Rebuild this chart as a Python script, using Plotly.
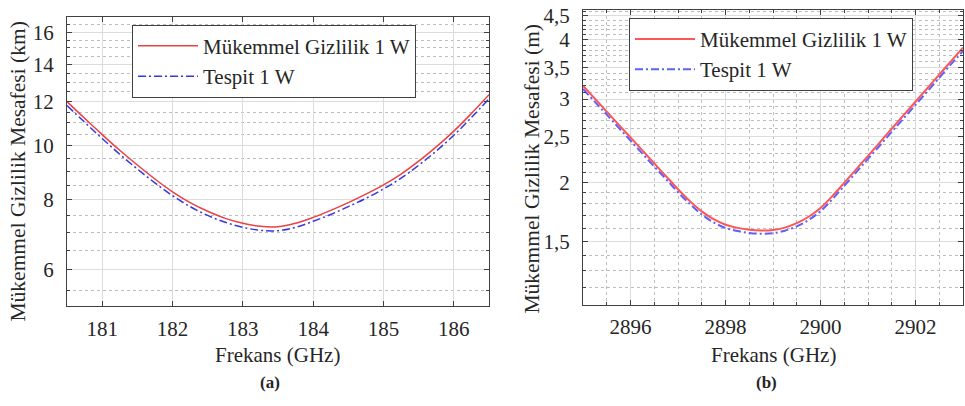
import plotly.graph_objects as go
import math

# ---------------- data ----------------
freq_a = [180.50, 180.75, 181.00, 181.25, 181.50, 181.75, 182.00, 182.25, 182.50,
          182.75, 183.00, 183.25, 183.50, 183.75, 184.00, 184.25, 184.50, 184.75,
          185.00, 185.25, 185.50, 185.75, 186.00, 186.25, 186.50]
stealth_a = [12.01, 11.21, 10.48, 9.82, 9.24, 8.72, 8.27, 7.91, 7.63,
             7.41, 7.26, 7.17, 7.16, 7.26, 7.44, 7.66, 7.91, 8.19,
             8.51, 8.90, 9.39, 9.96, 10.63, 11.44, 12.36]
detect_a = [11.82, 11.03, 10.31, 9.66, 9.09, 8.58, 8.14, 7.78, 7.50,
            7.29, 7.14, 7.05, 7.04, 7.14, 7.32, 7.53, 7.78, 8.05,
            8.37, 8.75, 9.23, 9.79, 10.45, 11.25, 12.15]

freq_b = [2895.00, 2895.25, 2895.50, 2895.75, 2896.00, 2896.25, 2896.50, 2896.75,
          2897.00, 2897.25, 2897.50, 2897.75, 2898.00, 2898.25, 2898.50, 2898.75,
          2899.00, 2899.25, 2899.50, 2899.75, 2900.00, 2900.25, 2900.50, 2900.75,
          2901.00, 2901.25, 2901.50, 2901.75, 2902.00, 2902.25, 2902.50, 2902.75,
          2903.00]
stealth_b = [3.20, 3.006, 2.822, 2.649, 2.488, 2.337, 2.193, 2.059,
             1.934, 1.825, 1.736, 1.671, 1.627, 1.602, 1.587, 1.581,
             1.585, 1.604, 1.639, 1.691, 1.765, 1.870, 1.995, 2.131,
             2.275, 2.430, 2.597, 2.773, 2.961, 3.162, 3.379, 3.609,
             3.855]
detect_b = [3.15, 2.96, 2.78, 2.61, 2.45, 2.30, 2.16, 2.03,
            1.905, 1.80, 1.71, 1.645, 1.602, 1.578, 1.563, 1.557,
            1.561, 1.58, 1.614, 1.665, 1.738, 1.842, 1.965, 2.099,
            2.241, 2.393, 2.558, 2.731, 2.916, 3.114, 3.328, 3.555,
            3.79]

name_stealth = "Mükemmel Gizlilik 1 W"
name_detect = "Tespit 1 W"

xticks_a = [181, 182, 183, 184, 185, 186]
yticks_a = [6, 8, 10, 12, 14, 16]
yminor_a = [5.5, 6.5, 7, 7.5, 8.5, 9, 9.5, 10.5, 11, 11.5, 12.5, 13, 13.5,
            14.5, 15, 15.5, 16.5]

xticks_b = [2896, 2898, 2900, 2902]
xminor_b = [2895.5, 2896.5, 2897, 2897.5, 2898.5, 2899, 2899.5, 2900.5, 2901,
            2901.5, 2902.5]
yticks_b = [1.5, 2, 2.5, 3, 3.5, 4, 4.5]
yticktext_b = ["1,5", "2", "2,5", "3", "3,5", "4", "4,5"]
yminor_b = [1.2, 1.3, 1.4, 1.6, 1.7, 1.8, 1.9, 2.1, 2.2, 2.3, 2.4, 2.6, 2.7,
            2.8, 2.9, 3.1, 3.2, 3.3, 3.4, 3.6, 3.7, 3.8, 3.9, 4.1, 4.2, 4.3,
            4.4, 4.6]

# ---------------- style ----------------
W, H = 965, 406
FONT = "'Times New Roman', 'Liberation Serif', Times, 'DejaVu Serif', serif"
TXT = "#262626"
RED_A, BLUE_A = "rgb(235,65,65)", "rgb(55,55,225)"
RED_B, BLUE_B = "rgb(255,85,85)", "rgb(95,95,255)"
GRID = "#dcdcdc"
MINOR = "#bdbdbd"
FS = 21


def px_x(px):
    return px / W


def px_y(py):
    return 1 - py / H


fig = go.Figure()

fig.add_trace(go.Scatter(x=freq_a, y=stealth_a, name=name_stealth, mode="lines",
                         line=dict(color=RED_A, width=1.5, shape="spline"),
                         xaxis="x", yaxis="y", legend="legend"))
fig.add_trace(go.Scatter(x=freq_a, y=detect_a, name=name_detect, mode="lines",
                         line=dict(color=BLUE_A, width=1.5, dash="8px,3px,2px,3px", shape="spline"),
                         xaxis="x", yaxis="y", legend="legend"))
fig.add_trace(go.Scatter(x=freq_b, y=stealth_b, name=name_stealth, mode="lines",
                         line=dict(color=RED_B, width=2, shape="spline"),
                         xaxis="x2", yaxis="y2", legend="legend2"))
fig.add_trace(go.Scatter(x=freq_b, y=detect_b, name=name_detect, mode="lines",
                         line=dict(color=BLUE_B, width=2, dash="8px,3px,2px,3px", shape="spline"),
                         xaxis="x2", yaxis="y2", legend="legend2"))

axis_common = dict(
    showline=True, linecolor="#404040", linewidth=1, mirror="allticks",
    ticks="inside", ticklen=5, tickcolor="#404040",
    showgrid=True, gridcolor=GRID, gridwidth=1,
    zeroline=False, ticklabeloverflow="allow",
    tickfont=dict(family=FONT, size=FS, color=TXT),
)

legend_common = dict(xanchor="left", yanchor="top", bgcolor="white",
                     bordercolor="#404040", borderwidth=1, itemwidth=60,
                     font=dict(family=FONT, size=FS, color=TXT), tracegroupgap=0)

fig.update_layout(
    width=W, height=H,
    margin=dict(l=0, r=0, t=0, b=0),
    paper_bgcolor="white", plot_bgcolor="white",
    font=dict(family=FONT, size=FS, color=TXT),
    xaxis=dict(axis_common, domain=[px_x(67), px_x(489)], range=[180.5, 186.5],
               tickmode="array", tickvals=xticks_a, anchor="y", ticklabelstandoff=3),
    yaxis=dict(axis_common, domain=[px_y(305), px_y(11)], type="log",
               range=[math.log10(5.145), math.log10(17.06)],
               tickmode="array", tickvals=yticks_a, anchor="x", ticklabelstandoff=8,
               minor=dict(tickmode="array", tickvals=yminor_a, ticks="inside", ticklen=3,
                          tickcolor="#404040", showgrid=True, gridcolor=MINOR, griddash="dot")),
    xaxis2=dict(axis_common, domain=[px_x(583), px_x(963)], range=[2895, 2903],
                tickmode="array", tickvals=xticks_b, anchor="y2", ticklabelstandoff=3,
                minor=dict(tickmode="array", tickvals=xminor_b, ticks="inside", ticklen=3,
                           tickcolor="#404040", showgrid=True, gridcolor=MINOR, griddash="dot")),
    yaxis2=dict(axis_common, domain=[px_y(303), px_y(4)], type="log",
                range=[math.log10(1.103), math.log10(4.63)],
                tickmode="array", tickvals=yticks_b, ticktext=yticktext_b, anchor="x2",
                ticklabelstandoff=8,
                minor=dict(tickmode="array", tickvals=yminor_b, ticks="inside", ticklen=3,
                           tickcolor="#404040", showgrid=True, gridcolor=MINOR, griddash="dot")),
    legend=dict(legend_common, x=px_x(132), y=px_y(19)),
    legend2=dict(legend_common, x=px_x(629), y=px_y(12)),
    showlegend=True,
)

annots = [
    dict(text="Frekans (GHz)", x=px_x(277), y=px_y(354)),
    dict(text="Frekans (GHz)", x=px_x(773), y=px_y(354)),
    dict(text="<b>(a)</b>", x=px_x(270), y=px_y(382), size=17),
    dict(text="<b>(b)</b>", x=px_x(766), y=px_y(382), size=17),
    dict(text="Mükemmel Gizlilik Mesafesi (km)", x=px_x(18), y=px_y(168), angle=-90, size=21.5),
    dict(text="Mükemmel Gizlilik Mesafesi (m)", x=px_x(532), y=px_y(165), angle=-90, size=21.5),
]
for a in annots:
    fig.add_annotation(text=a["text"], x=a["x"], y=a["y"], xref="paper", yref="paper",
                       xanchor="center", yanchor="middle", showarrow=False,
                       textangle=a.get("angle", 0),
                       font=dict(family=FONT, size=a.get("size", FS), color=TXT))

fig.write_html("out.html", config={"displayModeBar": False},
               post_script="document.body.style.margin='0';")
